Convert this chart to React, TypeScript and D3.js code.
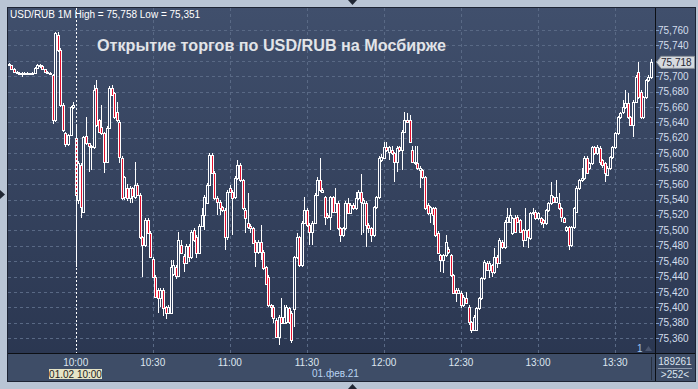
import React from 'react';
import * as d3 from 'd3';

// 1-minute candles, first candle at 09:34, last at 13:44
const firstMinute = 9 * 60 + 34;

const openP = [
  75.716,75.714,75.710,75.706,75.704,75.704,75.703,75.704,75.704,75.703,75.704,75.711,75.714,75.713,75.709,75.706,75.704,
  75.702,75.643,75.754,75.734,75.663,75.627,75.612,75.624,75.660,
  75.620,75.540,75.585,75.524,75.622,75.613,75.610,75.608,75.685,75.643,
  75.634,75.626,75.589,75.633,75.685,75.678,75.654,75.641,75.594,75.543,
  75.555,75.542,75.555,75.543,75.559,75.546,75.491,75.481,75.514,75.497,
  75.463,75.440,75.423,75.412,75.423,75.400,75.393,75.393,75.443,75.452,
  75.441,75.481,75.467,75.458,75.480,75.465,75.500,75.492,75.471,75.506,
  75.520,75.536,75.559,75.598,75.575,75.542,75.537,75.530,75.527,75.491,
  75.555,75.550,75.543,75.568,75.585,75.565,75.527,75.510,75.506,75.503,
  75.485,75.472,75.485,75.472,75.452,75.440,75.403,75.401,75.384,75.362,
  75.388,75.380,75.381,75.399,75.393,75.398,75.465,75.491,75.455,75.510,
  75.527,75.507,75.498,75.510,75.546,75.565,75.550,75.543,75.520,75.517,
  75.543,75.524,75.536,75.503,75.494,75.503,75.536,75.523,75.533,75.529,
  75.542,75.550,75.536,75.536,75.507,75.503,75.494,75.530,75.543,75.591,
  75.594,75.608,75.602,75.604,75.600,75.589,75.608,75.604,75.628,75.643,
  75.643,75.604,75.589,75.587,75.578,75.578,75.569,75.533,75.523,75.529,
  75.529,75.497,75.468,75.462,75.468,75.476,75.468,75.442,75.423,75.419,
  75.419,75.403,75.412,75.401,75.381,75.371,75.371,75.399,75.412,75.438,
  75.458,75.449,75.455,75.446,75.466,75.458,75.485,75.478,75.511,75.511,
  75.497,75.516,75.517,75.513,75.500,75.488,75.500,75.490,75.522,75.524,
  75.516,75.516,75.513,75.509,75.526,75.535,75.543,75.537,75.535,75.529,
  75.516,75.500,75.504,75.481,75.504,75.524,75.555,75.565,75.568,75.594,
  75.581,75.587,75.608,75.600,75.607,75.591,75.587,75.572,75.581,75.595,
  75.608,75.626,75.647,75.653,75.660,75.665,75.647,75.637,75.667,75.705,
  75.680,75.647,75.673,75.695,75.699,
];

const closeP = [
  75.714,75.710,75.706,75.704,75.704,75.703,75.704,75.704,75.703,75.704,75.711,75.714,75.713,75.709,75.706,75.704,75.703,
  75.643,75.756,75.734,75.663,75.630,75.612,75.624,75.660,75.663,
  75.546,75.587,75.530,75.621,75.613,75.610,75.608,75.682,75.637,75.628,
  75.626,75.589,75.633,75.685,75.676,75.647,75.643,75.595,75.542,75.569,
  75.542,75.555,75.545,75.559,75.546,75.491,75.481,75.514,75.497,75.466,
  75.440,75.414,75.412,75.423,75.399,75.393,75.401,75.452,75.455,75.441,
  75.487,75.471,75.458,75.480,75.465,75.498,75.487,75.471,75.506,75.520,
  75.543,75.559,75.598,75.575,75.542,75.537,75.529,75.527,75.491,75.550,
  75.550,75.542,75.568,75.585,75.565,75.529,75.516,75.504,75.503,75.484,
  75.472,75.485,75.472,75.451,75.431,75.403,75.401,75.386,75.362,75.388,
  75.380,75.388,75.401,75.381,75.358,75.465,75.491,75.455,75.510,75.527,
  75.507,75.498,75.510,75.546,75.565,75.552,75.552,75.517,75.517,75.543,
  75.524,75.536,75.503,75.494,75.503,75.536,75.523,75.533,75.529,75.542,
  75.550,75.537,75.540,75.507,75.503,75.494,75.530,75.543,75.594,75.595,
  75.608,75.604,75.608,75.600,75.589,75.607,75.604,75.628,75.643,75.641,
  75.615,75.589,75.587,75.581,75.581,75.569,75.529,75.523,75.530,75.520,
  75.494,75.471,75.462,75.468,75.485,75.472,75.442,75.419,75.419,75.423,
  75.403,75.414,75.406,75.381,75.371,75.388,75.399,75.412,75.438,75.459,
  75.449,75.458,75.446,75.466,75.458,75.488,75.478,75.511,75.517,75.520,
  75.516,75.498,75.511,75.498,75.488,75.500,75.491,75.522,75.524,75.516,
  75.522,75.511,75.509,75.526,75.535,75.546,75.537,75.543,75.529,75.517,
  75.511,75.504,75.481,75.504,75.529,75.555,75.565,75.568,75.594,75.575,
  75.587,75.608,75.600,75.608,75.589,75.585,75.574,75.581,75.595,75.608,
  75.626,75.647,75.652,75.660,75.665,75.647,75.637,75.667,75.699,75.673,
  75.647,75.673,75.695,75.699,75.718,
];

const highP = [
  75.717,75.715,75.711,75.707,75.705,75.705,75.705,75.705,75.704,75.705,75.712,75.716,75.716,75.714,75.710,75.707,75.705,
  75.703,75.758,75.757,75.736,75.665,75.628,75.625,75.662,75.667,
  75.637,75.590,75.588,75.623,75.647,75.614,75.611,75.689,75.695,75.645,
  75.663,75.628,75.635,75.687,75.689,75.680,75.667,75.643,75.596,75.570,
  75.560,75.557,75.556,75.589,75.561,75.548,75.493,75.516,75.516,75.499,
  75.465,75.442,75.425,75.425,75.425,75.402,75.403,75.462,75.462,75.455,
  75.498,75.487,75.469,75.482,75.482,75.501,75.503,75.494,75.508,75.529,
  75.546,75.561,75.600,75.601,75.577,75.544,75.539,75.532,75.529,75.552,
  75.559,75.552,75.570,75.591,75.587,75.567,75.529,75.548,75.508,75.505,
  75.487,75.487,75.507,75.474,75.454,75.442,75.405,75.403,75.386,75.390,
  75.412,75.403,75.403,75.401,75.395,75.467,75.496,75.493,75.512,75.543,
  75.529,75.509,75.512,75.548,75.569,75.594,75.555,75.545,75.522,75.545,
  75.545,75.555,75.538,75.505,75.505,75.538,75.542,75.535,75.535,75.550,
  75.552,75.573,75.542,75.538,75.509,75.505,75.532,75.545,75.596,75.599,
  75.615,75.615,75.610,75.610,75.602,75.609,75.610,75.630,75.654,75.652,
  75.650,75.610,75.610,75.610,75.583,75.580,75.571,75.535,75.532,75.531,
  75.531,75.499,75.470,75.470,75.494,75.479,75.470,75.444,75.425,75.425,
  75.421,75.416,75.420,75.403,75.383,75.390,75.401,75.414,75.440,75.461,
  75.460,75.460,75.457,75.477,75.468,75.490,75.487,75.513,75.529,75.529,
  75.518,75.520,75.520,75.515,75.502,75.529,75.502,75.524,75.529,75.526,
  75.524,75.518,75.515,75.528,75.537,75.563,75.545,75.565,75.548,75.531,
  75.518,75.506,75.506,75.506,75.531,75.557,75.567,75.581,75.596,75.596,
  75.589,75.610,75.610,75.611,75.609,75.593,75.589,75.583,75.597,75.610,
  75.628,75.649,75.654,75.669,75.682,75.678,75.649,75.669,75.701,75.718,
  75.682,75.675,75.697,75.701,75.722,
];

const lowP = [
  75.713,75.709,75.705,75.703,75.703,75.699,75.703,75.703,75.702,75.702,75.703,75.710,75.711,75.708,75.705,75.703,75.702,
  75.638,75.641,75.732,75.660,75.628,75.608,75.609,75.622,75.658,
  75.452,75.534,75.516,75.522,75.611,75.576,75.578,75.606,75.634,75.626,
  75.624,75.574,75.587,75.631,75.674,75.645,75.641,75.587,75.540,75.540,
  75.538,75.535,75.535,75.541,75.544,75.489,75.440,75.479,75.495,75.464,
  75.438,75.412,75.393,75.400,75.389,75.385,75.391,75.391,75.441,75.437,
  75.439,75.469,75.446,75.456,75.459,75.463,75.485,75.464,75.469,75.504,
  75.500,75.534,75.557,75.573,75.540,75.520,75.520,75.524,75.475,75.488,
  75.548,75.494,75.541,75.566,75.563,75.527,75.497,75.502,75.497,75.482,
  75.452,75.470,75.462,75.449,75.429,75.401,75.388,75.380,75.360,75.351,
  75.378,75.378,75.379,75.379,75.354,75.375,75.463,75.453,75.453,75.508,
  75.505,75.481,75.481,75.508,75.544,75.550,75.548,75.507,75.515,75.500,
  75.522,75.522,75.501,75.485,75.492,75.501,75.521,75.521,75.527,75.527,
  75.540,75.494,75.496,75.478,75.497,75.485,75.492,75.528,75.541,75.589,
  75.592,75.602,75.591,75.598,75.563,75.576,75.602,75.578,75.626,75.639,
  75.613,75.587,75.585,75.579,75.555,75.567,75.527,75.520,75.510,75.507,
  75.492,75.469,75.446,75.445,75.466,75.470,75.440,75.417,75.407,75.417,
  75.399,75.401,75.404,75.377,75.367,75.369,75.369,75.397,75.410,75.436,
  75.447,75.438,75.440,75.444,75.451,75.456,75.476,75.476,75.509,75.509,
  75.494,75.496,75.509,75.496,75.478,75.486,75.477,75.488,75.520,75.514,
  75.514,75.507,75.503,75.507,75.524,75.533,75.535,75.535,75.527,75.511,
  75.509,75.498,75.475,75.479,75.502,75.522,75.553,75.563,75.566,75.573,
  75.579,75.585,75.598,75.598,75.585,75.581,75.563,75.570,75.579,75.593,
  75.606,75.624,75.645,75.651,75.658,75.645,75.635,75.621,75.665,75.671,
  75.645,75.645,75.671,75.693,75.697,
];

const priceTicks = [
  75.36, 75.38, 75.40, 75.42, 75.44, 75.46, 75.48, 75.50, 75.52, 75.54, 75.56,
  75.58, 75.60, 75.62, 75.64, 75.66, 75.68, 75.70, 75.72, 75.74, 75.76,
];
const timeTickLabels = ['10:00', '10:30', '11:00', '11:30', '12:00', '12:30', '13:00', '13:30'];
const timeTickMinutes = [600, 630, 660, 690, 720, 750, 780, 810];

const symbol = 'USD/RUB 1M';
const title = 'Открытие торгов по USD/RUB на Мосбирже';
const dateLabel = '01.фев.21';
const crossLabel = '01.02 10:00';
const crossMinute = 600;
const volumeText = '189261';
const barsText = '>252<';

const W = 698;
const H = 389;
const plotL = 8;
const plotR = 655;
const plotT = 8;
const plotB = 353;
const panelR = 695;
const panelB = 381;

const FONT = "'Liberation Sans', Arial, sans-serif";

const fmt = (v: number) => d3.format('.3f')(v).replace('.', ',');

export default function App() {
  const x = d3.scaleLinear().domain([600, 810]).range([75.7, 615]);
  const y = d3.scaleLinear().domain([75.36, 75.76]).range([338.3, 30]);

  const n = closeP.length;
  const candles = d3.range(n).map((i) => ({
    m: firstMinute + i,
    o: openP[i],
    h: highP[i],
    l: lowP[i],
    c: closeP[i],
  }));

  const hi = d3.max(highP) as number;
  const lo = d3.min(lowP) as number;
  const last = closeP[n - 1];
  const lastY = y(last);
  const crossX = Math.round(x(crossMinute)) + 0.5;

  return (
    <svg
      width={W}
      height={H}
      style={{ position: 'absolute', left: 0, top: 0, display: 'block' }}
      fontFamily={FONT}
    >
      <defs>
        <linearGradient id="bg" x1="0" y1="0" x2="0" y2="1">
          <stop offset="0" stopColor="#404f6c" />
          <stop offset="1" stopColor="#29354f" />
        </linearGradient>
        <clipPath id="plotClip">
          <rect x={plotL} y={plotT} width={plotR - plotL} height={plotB - plotT} />
        </clipPath>
      </defs>

      {/* outer frame */}
      <rect x={0} y={0} width={W} height={H} fill="#b9c5d5" />
      <rect x={7.5} y={7.5} width={panelR - 7} height={panelB - 7} fill="url(#bg)" stroke="#1d2434" />
      <rect x={8} y={plotB + 1} width={panelR - 8} height={panelB - plotB - 1} fill="#3e4d67" />

      {/* splitter arrows */}
      <path d="M348,0 L357,0 L352.5,5 Z" fill="#1f2633" />
      <path d="M348,389 L357,389 L352.5,384 Z" fill="#1f2633" />
      <path d="M0,190 L0,199 L5,194.5 Z" fill="#1f2633" />

      {/* grid */}
      <g clipPath="url(#plotClip)" stroke="#596985" strokeWidth={1} strokeDasharray="3,3">
        {priceTicks.map((p) => (
          <line key={'h' + p} x1={plotL} x2={plotR} y1={Math.round(y(p)) + 0.5} y2={Math.round(y(p)) + 0.5} />
        ))}
        {timeTickMinutes
          .filter((m) => m !== crossMinute)
          .map((m) => (
            <line key={'v' + m} x1={Math.round(x(m)) + 0.5} x2={Math.round(x(m)) + 0.5} y1={plotT} y2={plotB} />
          ))}
      </g>

      {/* candles */}
      <g clipPath="url(#plotClip)">
        {candles.map((d, i) => {
          const cx = Math.round(x(d.m));
          const top = Math.round(y(Math.max(d.o, d.c)));
          const bot = Math.round(y(Math.min(d.o, d.c)));
          const bh = Math.max(1, bot - top);
          const down = d.c < d.o;
          return (
            <g key={i}>
              <line
                x1={cx + 0.5}
                x2={cx + 0.5}
                y1={Math.round(y(d.h))}
                y2={Math.round(y(d.l))}
                stroke="#ffffff"
                strokeWidth={1}
              />
              <rect
                x={cx - 0.5}
                y={top + 0.5}
                width={2}
                height={bh}
                fill={down ? '#e3102e' : '#334160'}
                stroke="#ffffff"
                strokeWidth={1}
              />
            </g>
          );
        })}
      </g>

      {/* header texts */}
      <text x={10} y={18} fontSize={10} fill="#ffffff">
        {`${symbol} High = ${fmt(hi)} Low = ${fmt(lo)}`}
      </text>
      <text x={97} y={51} fontSize={16} fontWeight={700} fill="#e2e4e8" textLength={349} lengthAdjust="spacingAndGlyphs">
        {title}
      </text>

      {/* crosshair */}
      <line x1={crossX} x2={crossX} y1={plotT} y2={plotB} stroke="#ffffff" strokeDasharray="2,2" />

      {/* separators */}
      <line x1={plotR + 0.5} x2={plotR + 0.5} y1={plotT} y2={panelB} stroke="#0c0f14" />
      <line x1={plotL} x2={panelR} y1={plotB + 0.5} y2={plotB + 0.5} stroke="#0c0f14" />
      <line x1={651.5} x2={651.5} y1={plotB + 4} y2={panelB - 1} stroke="#27303f" />

      {/* price axis (label under the last-price marker is hidden, as in the terminal) */}
      {priceTicks.map((p) => (
        <g key={'t' + p}>
          <line x1={plotR + 1} x2={plotR + 4} y1={Math.round(y(p)) + 0.5} y2={Math.round(y(p)) + 0.5} stroke="#7f9cc4" />
          {Math.abs(y(p) - lastY) > 9 && (
            <text x={658} y={y(p) + 3.5} fontSize={10} fill="#d3deec">
              {fmt(p)}
            </text>
          )}
        </g>
      ))}

      {/* last price marker */}
      <path
        d={`M656.5,${lastY} L661,${lastY - 6} L694.5,${lastY - 6} L694.5,${lastY + 6} L661,${lastY + 6} Z`}
        fill="#d6dadf"
        stroke="#8d949c"
      />
      <text x={661} y={lastY + 3.8} fontSize={10} fill="#1e2530">
        {fmt(last)}
      </text>

      {/* "1" marker */}
      <text x={637} y={352} fontSize={10} fill="#9cc3f0">1</text>
      <path d="M645,351 L652,351 L648.5,346 Z" fill="#4a5670" />

      {/* time axis */}
      {timeTickLabels.map((lab, i) => (
        <text key={lab} x={x(timeTickMinutes[i])} y={366} fontSize={10} fill="#dde5ef" textAnchor="middle">
          {lab}
        </text>
      ))}
      <text x={312} y={377} fontSize={10} fill="#b9d4f2">
        {dateLabel}
      </text>
      <rect x={49} y={369} width={53} height={10} fill="#e6e4c6" />
      <text x={75.5} y={377.5} fontSize={10} fill="#1c1c1c" textAnchor="middle">
        {crossLabel}
      </text>

      {/* bottom-right info box */}
      <text x={675} y={365} fontSize={10} fill="#dde5ef" textAnchor="middle">
        {volumeText}
      </text>
      <line x1={658} x2={692} y1={368.5} y2={368.5} stroke="#8c98aa" />
      <text x={675} y={378} fontSize={10} fill="#dde5ef" textAnchor="middle">
        {barsText}
      </text>
    </svg>
  );
}
